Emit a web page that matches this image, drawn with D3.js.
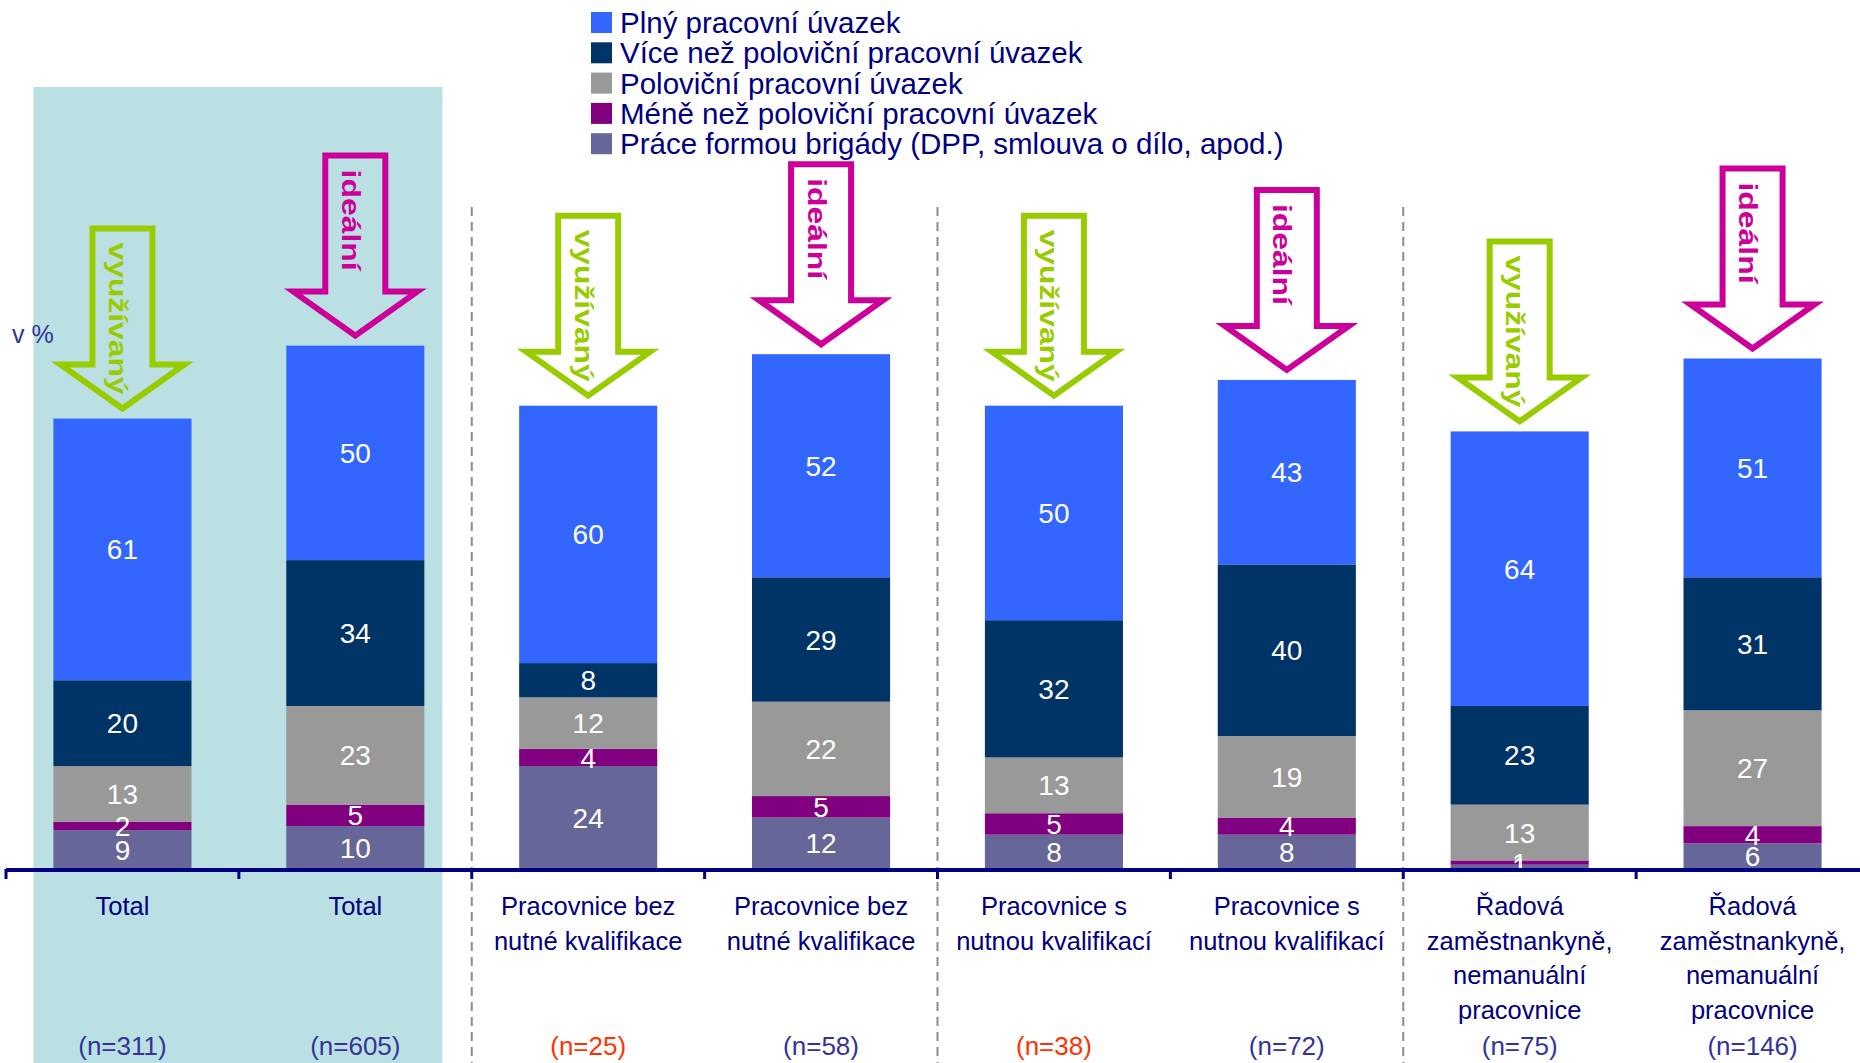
<!DOCTYPE html>
<html><head><meta charset="utf-8">
<script src="https://cdn.jsdelivr.net/npm/d3@7"></script>
<style>
html,body{margin:0;padding:0;background:#fff;}
svg{display:block;font-family:"Liberation Sans",Arial,sans-serif;}
</style></head>
<body>
<svg id="chart" width="1860" height="1063"></svg>
<script>
// ---- data ----
const categories = [
  "Total",
  "Total",
  "Pracovnice bez\nnutné kvalifikace",
  "Pracovnice bez\nnutné kvalifikace",
  "Pracovnice s\nnutnou kvalifikací",
  "Pracovnice s\nnutnou kvalifikací",
  "Řadová\nzaměstnankyně,\nnemanuální\npracovnice",
  "Řadová\nzaměstnankyně,\nnemanuální\npracovnice"
];
const sampleSizes = ["(n=311)","(n=605)","(n=25)","(n=58)","(n=38)","(n=72)","(n=75)","(n=146)"];
const smallSample = [false,false,true,false,true,false,false,false];
const arrowTypes = ["využívaný","ideální","využívaný","ideální","využívaný","ideální","využívaný","ideální"];
const seriesNames = [
  "Plný pracovní úvazek",
  "Více než poloviční pracovní úvazek",
  "Poloviční pracovní úvazek",
  "Méně než poloviční pracovní úvazek",
  "Práce formou brigády (DPP, smlouva o dílo, apod.)"
];
const plny     = [61,50,60,52,50,43,64,51];
const vice     = [20,34, 8,29,32,40,23,31];
const polovicni= [13,23,12,22,13,19,13,27];
const mene     = [ 2, 5, 4, 5, 5, 4, 1, 4];
const brigady  = [ 9,10,24,12, 8, 8, 1, 6];
const seriesColors = ["#3366FF","#003366","#999999","#800080","#666699"];
const yLabel = "v %";

// ---- build table ----
const keys = ["brig","mene","pol","vice","plny"]; // bottom -> top
const keyIndex = {plny:0, vice:1, pol:2, mene:3, brig:4};
const table = categories.map((c,i)=>({i, plny:plny[i], vice:vice[i], pol:polovicni[i], mene:mene[i], brig:brigady[i]}));
const stack = d3.stack().keys(keys)(table);

const svg = d3.select("#chart");
const W = 1860, H = 1063;

const x = d3.scaleBand().domain(d3.range(categories.length)).range([6, 1869]).paddingInner(0.407).paddingOuter(0.2035);
const y = d3.scaleLinear().domain([0,100]).range([869, 440]);
const step = x.step();
const edge = i => x(i) - step*x.paddingInner()/2;

// shaded Total region
svg.append("rect")
  .attr("x", x(0) - 20).attr("y", 87)
  .attr("width", x(1) + x.bandwidth() + 18 - (x(0) - 20)).attr("height", H - 87)
  .attr("fill", "#BBE0E3");

// dashed group separators
[2,4,6].forEach(i=>{
  svg.append("line").attr("x1", edge(i)).attr("x2", edge(i)).attr("y1", 207).attr("y2", H)
    .attr("stroke","#8c8c8c").attr("stroke-width",2).attr("stroke-dasharray","9,6");
});

// bars
const layers = svg.append("g").selectAll("g").data(stack).join("g")
  .attr("fill", d => seriesColors[keyIndex[d.key]]);
layers.selectAll("rect").data(d=>d).join("rect")
  .attr("x", d => x(d.data.i)).attr("width", x.bandwidth())
  .attr("y", d => y(d[1])).attr("height", d => y(d[0]) - y(d[1]));

// value labels
const lab = svg.append("g").attr("fill","#fff").attr("font-size",28).attr("text-anchor","middle");
stack.forEach(layer=>{
  layer.forEach(d=>{
    const v = d[1]-d[0];
    lab.append("text").attr("x", x(d.data.i)+x.bandwidth()/2)
      .attr("y", (y(d[0])+y(d[1]))/2).attr("dy","0.36em").text(v);
  });
});

// axis
const axisG = svg.append("g").attr("stroke","#000080");
axisG.append("line").attr("x1",6).attr("x2",W).attr("y1",y(0)+1).attr("y2",y(0)+1).attr("stroke-width",4);
categories.forEach((c,i)=>{
  axisG.append("line").attr("x1",edge(i)).attr("x2",edge(i)).attr("y1",y(0)).attr("y2",y(0)+10).attr("stroke-width",3);
});

// category labels
categories.forEach((c,i)=>{
  const t = svg.append("text").attr("text-anchor","middle").attr("font-size",25.5).attr("fill","#000080")
    .attr("x", x(i)+x.bandwidth()/2).attr("y", 915);
  c.split("\n").forEach((ln,k)=>{
    t.append("tspan").attr("x", x(i)+x.bandwidth()/2).attr("dy", k===0?0:34.5).text(ln);
  });
  svg.append("text").attr("text-anchor","middle").attr("font-size",26)
    .attr("fill", smallSample[i] ? "#FF3300" : "#333399")
    .attr("x", x(i)+x.bandwidth()/2).attr("y", 1055).text(sampleSizes[i]);
});

// y label
svg.append("text").attr("x",12).attr("y",343).attr("font-size",25).attr("fill","#333399").text(yLabel);

// arrows
const totals = table.map(d=>keys.reduce((s,k)=>s+d[k],0));
categories.forEach((c,i)=>{
  const cx = x(i)+x.bandwidth()/2;
  const tip = y(totals[i]) - 4;
  const col = arrowTypes[i]==="ideální" ? "#CC0099" : "#99CC00";
  const p = d3.path();
  p.moveTo(cx-30, tip-186); p.lineTo(cx+30, tip-186); p.lineTo(cx+30, tip-50);
  p.lineTo(cx+62, tip-50); p.lineTo(cx, tip-6); p.lineTo(cx-62, tip-50);
  p.lineTo(cx-30, tip-50); p.closePath();
  svg.append("path").attr("d", p.toString()).attr("fill","none").attr("stroke",col)
    .attr("stroke-width",6).attr("stroke-linejoin","miter").attr("stroke-miterlimit",10);
  const len = arrowTypes[i]==="ideální" ? 101 : 152;
  svg.append("text").attr("transform",`translate(${cx-13.5},${tip-172}) rotate(90)`)
    .attr("font-size",25).attr("font-weight","bold").attr("fill",col)
    .attr("textLength",len).attr("lengthAdjust","spacingAndGlyphs").text(arrowTypes[i]);
});

// legend
const lg = svg.append("g");
seriesNames.forEach((s,k)=>{
  const yy = 12 + k*30.3;
  lg.append("rect").attr("x",591).attr("y",yy).attr("width",21).attr("height",21).attr("fill",seriesColors[k]);
  lg.append("text").attr("x",620).attr("y",yy+10.5).attr("dy","0.36em").attr("font-size",29.5)
    .attr("fill","#000080").text(s);
});
</script>
</body></html>
